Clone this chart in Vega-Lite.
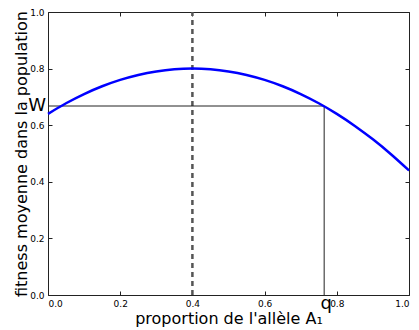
{
  "$schema": "https://vega.github.io/schema/vega-lite/v6.json",
  "width": 361,
  "height": 283,
  "autosize": {"type": "none"},
  "padding": {"left": 48, "top": 12, "right": 10, "bottom": 35},
  "background": "white",
  "config": {
    "font": "DejaVu Sans",
    "view": {"stroke": "#222222", "strokeWidth": 1},
    "axis": {"grid": false, "domain": false, "tickColor": "#222222", "tickSize": -4, "tickWidth": 1, "labelFont": "DejaVu Sans", "labelFontSize": 9, "labelColor": "black", "titleFont": "DejaVu Sans", "titleFontWeight": "normal", "titleFontSize": 16, "titleColor": "black"}
  },
  "resolve": {"axis": {"x": "independent", "y": "independent"}},
  "datasets": {
    "curve": [
      {"p": 0.0, "w": 0.64}, {"p": 0.05, "w": 0.6775}, {"p": 0.1, "w": 0.71}, {"p": 0.15, "w": 0.7375},
      {"p": 0.2, "w": 0.76}, {"p": 0.25, "w": 0.7775}, {"p": 0.3, "w": 0.79}, {"p": 0.35, "w": 0.7975},
      {"p": 0.4, "w": 0.8}, {"p": 0.45, "w": 0.7975}, {"p": 0.5, "w": 0.79}, {"p": 0.55, "w": 0.7775},
      {"p": 0.6, "w": 0.76}, {"p": 0.65, "w": 0.7375}, {"p": 0.7, "w": 0.71}, {"p": 0.75, "w": 0.6775},
      {"p": 0.8, "w": 0.64}, {"p": 0.85, "w": 0.5975}, {"p": 0.9, "w": 0.55}, {"p": 0.95, "w": 0.4975},
      {"p": 1.0, "w": 0.44}
    ],
    "rules": [
      {"x1": 0, "x2": 0.765, "y1": 0.6678, "y2": 0.6678},
      {"x1": 0.765, "x2": 0.765, "y1": 0, "y2": 0.6678}
    ],
    "dash": [{"x1": 0.4, "x2": 0.4, "y1": 0, "y2": 1}],
    "wlab": [{"x": 0, "y": 0.6678, "t": "W"}],
    "qlab": [{"x": 0.765, "y": 0, "t": "q"}]
  },
  "layer": [
    {
      "data": {"name": "dash"},
      "mark": {"type": "rule", "color": "#555555", "strokeWidth": 2.5, "strokeDash": [5, 4]},
      "encoding": {
        "x": {"field": "x1", "type": "quantitative", "scale": {"domain": [0, 1], "nice": false},
              "axis": {"orient": "bottom", "values": [0, 0.2, 0.4, 0.6, 0.8, 1.0], "format": ".1f", "labelPadding": 8, "title": "proportion de l'allèle A₁", "titlePadding": 2}},
        "x2": {"field": "x2"},
        "y": {"field": "y1", "type": "quantitative", "scale": {"domain": [0, 1], "nice": false},
              "axis": {"orient": "left", "values": [0, 0.2, 0.4, 0.6, 0.8, 1.0], "format": ".1f", "labelPadding": 8, "title": "fitness moyenne dans la population", "titlePadding": 0}},
        "y2": {"field": "y2"}
      }
    },
    {
      "data": {"name": "rules"},
      "mark": {"type": "rule", "color": "#222222", "strokeWidth": 1},
      "encoding": {
        "x": {"field": "x1", "type": "quantitative", "axis": {"orient": "top", "values": [0, 0.2, 0.4, 0.6, 0.8, 1.0], "labels": false, "title": null}},
        "x2": {"field": "x2"},
        "y": {"field": "y1", "type": "quantitative", "axis": {"orient": "right", "values": [0, 0.2, 0.4, 0.6, 0.8, 1.0], "labels": false, "title": null}},
        "y2": {"field": "y2"}
      }
    },
    {
      "data": {"name": "curve"},
      "mark": {"type": "line", "color": "#0000ff", "strokeWidth": 2.5, "interpolate": "monotone"},
      "encoding": {
        "x": {"field": "p", "type": "quantitative", "axis": null},
        "y": {"field": "w", "type": "quantitative", "axis": null}
      }
    },
    {
      "data": {"name": "wlab"},
      "mark": {"type": "text", "align": "right", "baseline": "middle", "dx": -2, "fontSize": 18, "color": "black"},
      "encoding": {
        "x": {"field": "x", "type": "quantitative", "axis": null},
        "y": {"field": "y", "type": "quantitative", "axis": null},
        "text": {"field": "t"}
      }
    },
    {
      "data": {"name": "qlab"},
      "mark": {"type": "text", "align": "center", "baseline": "top", "dx": 2, "dy": 0, "fontSize": 18, "color": "black"},
      "encoding": {
        "x": {"field": "x", "type": "quantitative", "axis": null},
        "y": {"field": "y", "type": "quantitative", "axis": null},
        "text": {"field": "t"}
      }
    }
  ]
}
